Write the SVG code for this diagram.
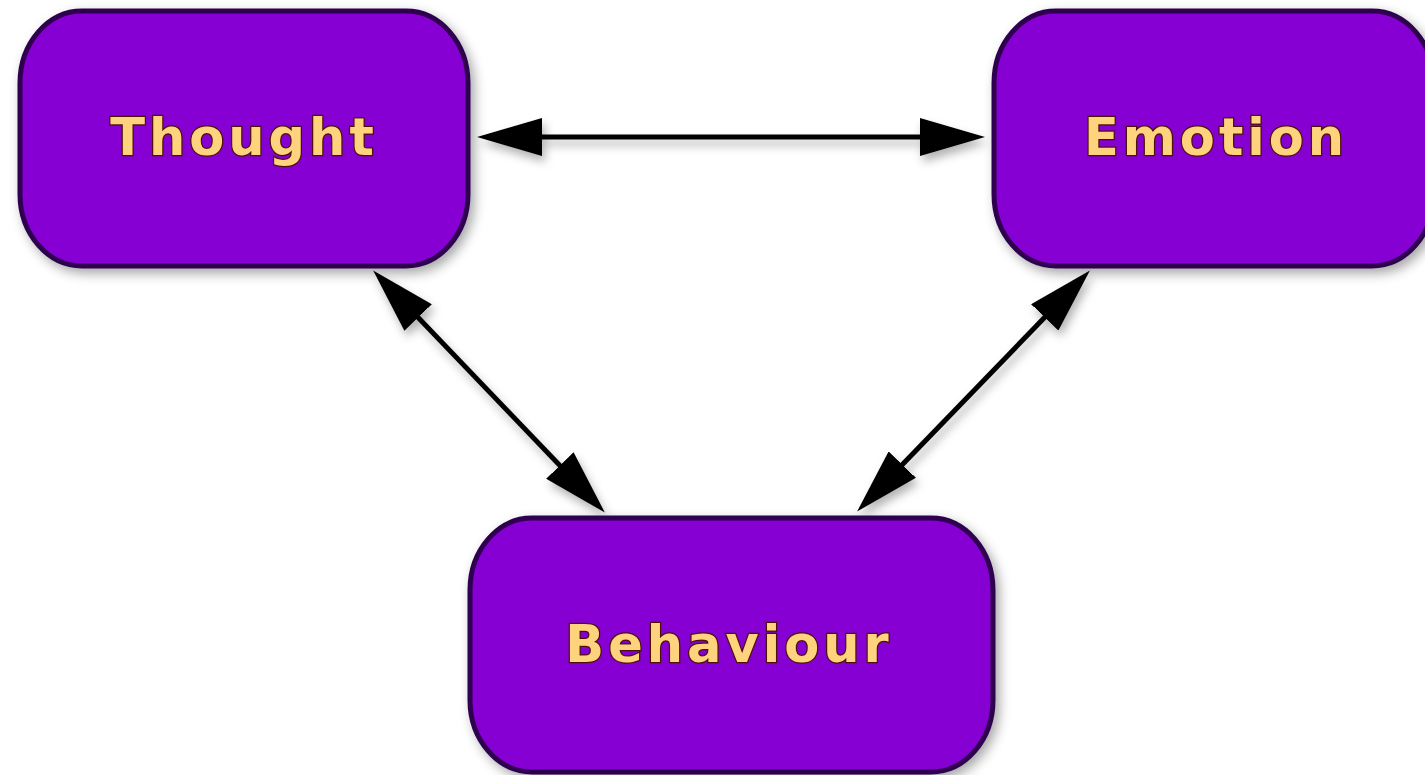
<svg xmlns="http://www.w3.org/2000/svg" width="1425" height="775" viewBox="0 0 1425 775">
<style>
.node{fill:#8600D3;stroke:#2E0050;stroke-width:5;filter:url(#shadow)}
.label{font-family:"DejaVu Sans",Verdana,sans-serif;font-weight:bold;font-size:51px;letter-spacing:4px;fill:#FFD27E;stroke:#4A1208;stroke-width:2.5;paint-order:stroke;text-anchor:middle}
.conn{stroke:#000;stroke-width:5;fill:none;marker-start:url(#head);marker-end:url(#head)}
</style>
<defs>
<filter id="shadow" x="-20%" y="-20%" width="140%" height="140%">
<feDropShadow dx="4" dy="5" stdDeviation="6" flood-color="#000" flood-opacity="0.35"/>
</filter>
<filter id="lshadow" x="-20%" y="-20%" width="140%" height="140%">
<feDropShadow dx="3" dy="6" stdDeviation="5" flood-color="#000" flood-opacity="0.3"/>
</filter>
<marker id="head" viewBox="0 0 65 38" refX="45" refY="19" markerWidth="65" markerHeight="38" markerUnits="userSpaceOnUse" orient="auto-start-reverse">
<path d="M0,0 L65,19 L0,38 z" fill="#000"/>
</marker>
</defs>
<rect width="1425" height="775" fill="#fff"/>
<g id="connectors" filter="url(#lshadow)">
<line class="conn" x1="497" y1="137" x2="965" y2="137"/>
<line class="conn" x1="387" y1="285" x2="591" y2="498"/>
<line class="conn" x1="1076" y1="285" x2="871" y2="497"/>
</g>
<g id="thought">
<rect class="node" x="20" y="11" width="448" height="255" rx="62" ry="72"/>
<text class="label" x="244" y="155">Thought</text>
</g>
<g id="emotion">
<rect class="node" x="994" y="11" width="440" height="255" rx="62" ry="72"/>
<text class="label" x="1216" y="155">Emotion</text>
</g>
<g id="behaviour">
<rect class="node" x="470" y="518" width="523" height="254" rx="62" ry="72"/>
<text class="label" x="729" y="662">Behaviour</text>
</g>
</svg>
